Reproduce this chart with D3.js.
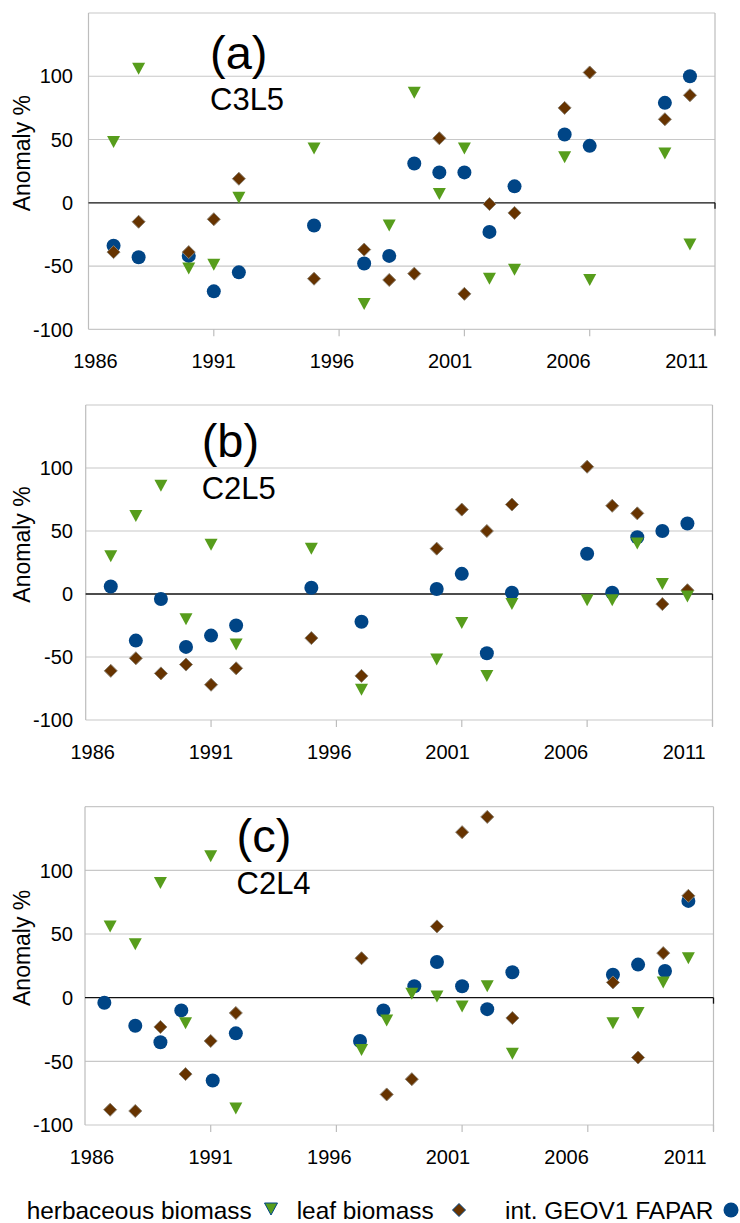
<!DOCTYPE html>
<html>
<head>
<meta charset="utf-8">
<script src="https://cdn.jsdelivr.net/npm/d3@7"></script>
<style>
  body { margin: 0; background: #fff; }
  text { font-family: "Liberation Sans", Arial, sans-serif; fill: #000; }
</style>
</head>
<body>
<svg width="740" height="1223"></svg>
<script>
// ---- data ----
var yearsA = [1987,1988,1990,1991,1992,1995,1997,1998,1999,2000,2001,2002,2003,2005,2006,2009,2010];
var herbA  = [48,106,-52,-49,4,43,-80,-18,87,7,43,-60,-53,36,-61,39,-33];
var leafA  = [-39,-15,-39,-13,19,-60,-37,-61,-56,51,-72,-1,-8,75,103,66,85];
var faparA = [-34,-43,-42,-70,-55,-18,-48,-42,31,24,24,-23,13,54,45,79,100];

var yearsB = [1987,1988,1989,1990,1991,1992,1995,1997,2000,2001,2002,2003,2006,2007,2008,2009,2010];
var herbB  = [30,62,86,-20,39,-40,36,-76,-52,-23,-65,-8,-5,-5,40,8,-2];
var leafB  = [-61,-51,-63,-56,-72,-59,-35,-65,36,67,50,71,101,70,64,-8,3];
var faparB = [6,-37,-4,-42,-33,-25,5,-22,4,16,-47,1,32,1,45,50,56];

var yearsC = [1987,1988,1989,1990,1991,1992,1997,1998,1999,2000,2001,2002,2003,2007,2008,2009,2010];
var herbC  = [56,42,90,-20,111,-87,-41,-18,3,1,-7,9,-44,-20,-12,12,31];
var leafC  = [-88,-89,-23,-60,-34,-12,31,-76,-64,56,130,142,-16,12,-47,35,80];
var faparYearsC = [1986.77,1988,1989,1989.83,1991.08,1992,1996.94,1997.87,1999.1,2000,2001,2002,2003,2007,2008,2009.07,2010];
var faparC = [-4,-22,-35,-10,-65,-28,-34,-10,9,28,9,-9,20,18,26,21,76];

var xTicks = [1986,1991,1996,2001,2006,2011];
var yTicks = [-100,-50,0,50,100];
var legendLabels = ["herbaceous biomass","leaf biomass","int. GEOV1 FAPAR"];

var green = "#579d1c", brown = "#663300", blue = "#004586";

var svg = d3.select("svg");

function zip(xs, ys) { return xs.map(function(x, i) { return {x: x, y: ys[i]}; }); }

var panels = [
  {tag:"(a)", name:"C3L5", L:88.5, R:715, T:13, B:329.3, tx:210, ty1:68.5, ty2:109.5,
   herb:zip(yearsA, herbA), leaf:zip(yearsA, leafA), fapar:zip(yearsA, faparA)},
  {tag:"(b)", name:"C2L5", L:85.7, R:712.5, T:405, B:720, tx:201.7, ty1:456.7, ty2:499.3,
   herb:zip(yearsB, herbB), leaf:zip(yearsB, leafB), fapar:zip(yearsB, faparB)},
  {tag:"(c)", name:"C2L4", L:85, R:713.5, T:806.7, B:1125, tx:236.5, ty1:851.7, ty2:894,
   herb:zip(yearsC, herbC), leaf:zip(yearsC, leafC), fapar:zip(faparYearsC, faparC)}
];

var triPath = "M-6.5,-6L6.5,-6L0,6Z";
var diaPath = "M0,-6.5L6.5,0L0,6.5L-6.5,0Z";

panels.forEach(function(p) {
  var x = d3.scaleLinear().domain([1986, 2011]).range([p.L, p.R]);
  var y = d3.scaleLinear().domain([-100, 150]).range([p.B, p.T]);
  // tick labels in the original sit slightly compressed toward the centre
  var xl = d3.scaleLinear().domain([1986, 2011]).range([p.L + 7, p.R - 28.3]);
  var g = svg.append("g");

  // grid
  g.selectAll("line.grid")
    .data([-100,-50,50,100,150])
    .enter().append("line")
    .attr("x1", p.L).attr("x2", p.R)
    .attr("y1", function(d) { return y(d); })
    .attr("y2", function(d) { return y(d); })
    .attr("stroke", "#c8c8c8").attr("stroke-width", 1.2);
  // side frame
  g.append("line").attr("x1", p.L).attr("x2", p.L).attr("y1", p.T).attr("y2", p.B)
    .attr("stroke", "#bdbdbd").attr("stroke-width", 1.2);
  g.append("line").attr("x1", p.R).attr("x2", p.R).attr("y1", p.T).attr("y2", p.B + 6)
    .attr("stroke", "#bdbdbd").attr("stroke-width", 1.2);
  // x tick marks
  g.selectAll("line.xt")
    .data(xTicks.slice(1))
    .enter().append("line")
    .attr("x1", function(d) { return x(d); }).attr("x2", function(d) { return x(d); })
    .attr("y1", p.B).attr("y2", p.B + 7)
    .attr("stroke", "#bdbdbd").attr("stroke-width", 1.2);
  // zero line
  g.append("line").attr("x1", p.L).attr("x2", p.R).attr("y1", y(0)).attr("y2", y(0))
    .attr("stroke", "#111").attr("stroke-width", 1.3);
  g.append("line").attr("x1", p.R).attr("x2", p.R).attr("y1", y(0)).attr("y2", y(0) + 6)
    .attr("stroke", "#111").attr("stroke-width", 1.3);

  // y labels
  g.selectAll("text.yl")
    .data(yTicks)
    .enter().append("text")
    .attr("x", 73).attr("y", function(d) { return y(d); })
    .attr("dy", "0.36em")
    .attr("text-anchor", "end")
    .style("font-size", "20px")
    .text(function(d) { return d; });
  // x labels
  g.selectAll("text.xl")
    .data(xTicks)
    .enter().append("text")
    .attr("x", function(d) { return xl(d); })
    .attr("y", p.B + 39)
    .attr("text-anchor", "middle")
    .style("font-size", "20px")
    .text(function(d) { return d; });

  g.append("text")
    .attr("transform", "translate(30," + ((p.T + p.B) / 2 - 18) + ") rotate(-90)")
    .attr("text-anchor", "middle")
    .style("font-size", "23px")
    .text("Anomaly %");

  g.append("text").attr("x", p.tx).attr("y", p.ty1).style("font-size", "47px").text(p.tag);
  g.append("text").attr("x", p.tx).attr("y", p.ty2).style("font-size", "31px").text(p.name);

  // marks: FAPAR first, leaf, herbaceous on top
  g.selectAll("circle.fapar")
    .data(p.fapar)
    .enter().append("circle")
    .attr("cx", function(d) { return x(d.x); })
    .attr("cy", function(d) { return y(d.y); })
    .attr("r", 7)
    .attr("fill", blue);
  g.selectAll("path.leaf")
    .data(p.leaf)
    .enter().append("path")
    .attr("d", diaPath)
    .attr("transform", function(d) { return "translate(" + x(d.x) + "," + y(d.y) + ")"; })
    .attr("fill", brown).attr("stroke", "#8a8070").attr("stroke-width", 1);
  g.selectAll("path.herb")
    .data(p.herb)
    .enter().append("path")
    .attr("d", triPath)
    .attr("transform", function(d) { return "translate(" + x(d.x) + "," + y(d.y) + ")"; })
    .attr("fill", green);
});

// legend
var lg = svg.append("g");
var legendItems = [
  {label: legendLabels[0], tx: 26.7, mx: 271},
  {label: legendLabels[1], tx: 296.7, mx: 459},
  {label: legendLabels[2], tx: 505, mx: 731}
];
lg.selectAll("text")
  .data(legendItems)
  .enter().append("text")
  .attr("x", function(d) { return d.tx; })
  .attr("y", 1219.3)
  .style("font-size", "24.4px")
  .text(function(d) { return d.label; });
lg.append("path").attr("d", triPath).attr("transform", "translate(" + legendItems[0].mx + ",1209)")
  .attr("fill", green).attr("stroke", blue).attr("stroke-width", 1);
lg.append("path").attr("d", diaPath).attr("transform", "translate(" + legendItems[1].mx + ",1210)")
  .attr("fill", brown).attr("stroke", blue).attr("stroke-width", 1);
lg.append("circle").attr("cx", legendItems[2].mx).attr("cy", 1210).attr("r", 7.5).attr("fill", blue);
</script>
</body>
</html>
